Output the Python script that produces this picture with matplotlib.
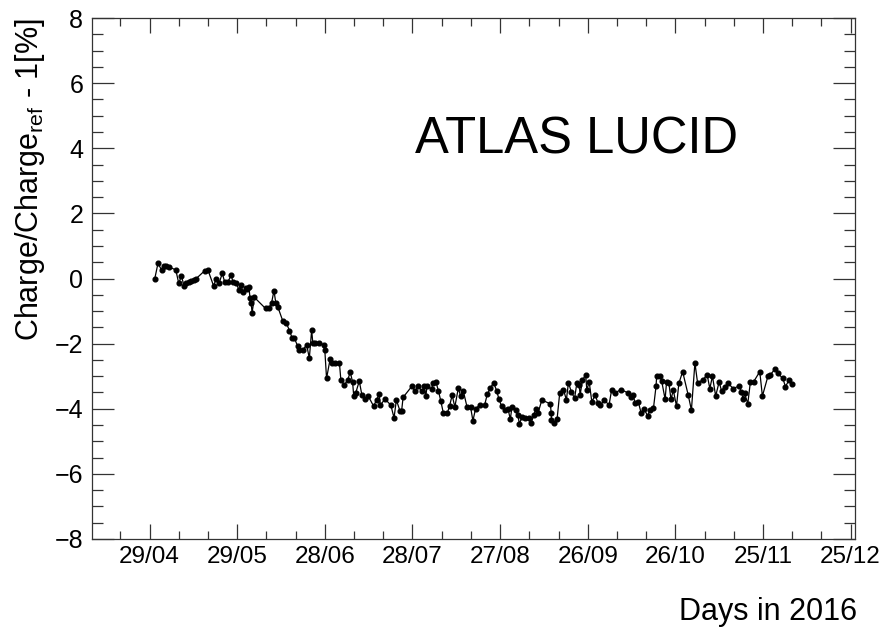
import matplotlib
matplotlib.use("Agg")
import matplotlib.pyplot as plt
from matplotlib.ticker import MultipleLocator, FixedLocator

plt.rcParams['font.family'] = ['Liberation Sans', 'DejaVu Sans']
plt.rcParams['mathtext.fontset'] = 'custom'
plt.rcParams['mathtext.rm'] = 'Liberation Sans'
plt.rcParams['mathtext.it'] = 'Liberation Sans:italic'

# Day of year 2016 and relative charge deviation [%]
days = [121.8, 122.9, 124.1, 124.9, 125.8, 126.7, 129.0, 130.0, 130.9, 131.8,
        132.6, 133.5, 134.3, 135.2, 136.0, 138.9, 140.0, 141.9, 142.9, 143.8,
        144.9, 145.7, 146.8, 148.0, 148.5, 149.7, 150.6, 151.4, 151.9, 152.9,
        153.3, 154.0, 154.4, 154.8, 155.1, 155.9, 159.7, 160.8, 161.8, 162.6,
        163.2, 163.9, 165.6, 166.8, 167.9, 168.8, 169.6, 170.7, 171.3, 172.4,
        173.8, 174.7, 175.5, 175.9, 176.8, 178.1, 179.6, 180.0, 180.6, 181.8,
        182.6, 183.6, 185.0, 185.5, 186.7, 187.8, 188.7, 189.5, 189.9, 190.6,
        191.8, 192.7, 193.7, 194.8, 196.7, 197.7, 198.6, 199.0, 200.6, 202.6,
        203.7, 204.5, 205.7, 206.3, 206.8, 209.8, 210.9, 211.8, 213.4, 214.0,
        214.6, 215.0, 216.6, 217.0, 218.0, 218.9, 219.7, 220.6, 221.9, 222.7,
        223.6, 224.5, 225.7, 226.5, 227.4, 228.7, 229.9, 230.7, 231.6, 233.0,
        234.7, 235.6, 236.7, 237.8, 238.8, 239.6, 240.5, 241.6, 242.7, 243.5,
        244.1, 245.3, 246.1, 246.6, 247.5, 248.7, 249.8, 250.6, 251.5, 252.3,
        253.0, 254.3, 257.2, 257.5, 257.6, 258.3, 259.5, 260.4, 261.7, 262.7,
        263.4, 264.4, 265.5, 266.3, 267.1, 267.4, 268.2, 269.3, 269.7, 270.5,
        271.4, 272.6, 273.5, 274.3, 275.7, 277.3, 278.2, 279.4, 281.4, 283.7,
        284.8, 285.6, 286.2, 287.3, 288.3, 289.4, 290.5, 291.3, 292.5, 293.4,
        293.6, 294.8, 295.3, 296.5, 297.0, 297.8, 298.5, 299.3, 300.4, 301.2,
        302.5, 304.4, 305.5, 306.7, 307.6, 309.3, 310.9, 311.8, 312.7, 313.8,
        315.0, 315.8, 316.9, 318.1, 319.8, 321.8, 322.6, 323.2, 323.7, 324.8,
        325.7, 326.8, 328.9, 329.8, 331.7, 332.5, 334.0, 335.1, 336.8, 337.7,
        338.9, 340.0]
values = [0.00, 0.47, 0.26, 0.39, 0.39, 0.36, 0.26, -0.15, 0.08, -0.22,
          -0.13, -0.10, -0.07, -0.05, 0.00, 0.24, 0.26, -0.22, 0.00, -0.15,
          0.16, -0.10, -0.10, 0.10, -0.10, -0.15, -0.35, -0.20, -0.40, -0.30,
          -0.33, -0.25, -0.60, -0.76, -1.05, -0.58, -0.92, -0.92, -0.74, -0.37,
          -0.74, -0.87, -1.30, -1.36, -1.60, -1.82, -1.84, -2.07, -2.20, -2.20,
          -2.04, -2.45, -1.58, -1.99, -1.97, -1.99, -2.04, -2.20, -3.07, -2.48,
          -2.59, -2.59, -2.59, -3.12, -3.27, -3.12, -2.88, -3.17, -3.61, -3.51,
          -3.15, -3.58, -3.70, -3.60, -3.92, -3.73, -3.56, -3.89, -3.70, -3.89,
          -4.28, -3.73, -4.06, -4.06, -3.65, -3.31, -3.46, -3.31, -3.46, -3.31,
          -3.60, -3.31, -3.40, -3.20, -3.17, -3.45, -3.76, -4.14, -4.14, -3.92,
          -3.58, -3.95, -3.37, -3.61, -3.45, -3.95, -3.95, -4.37, -4.00, -3.89,
          -3.89, -3.56, -3.36, -3.20, -3.44, -3.70, -3.92, -4.05, -4.00, -4.32,
          -3.94, -4.05, -4.20, -4.46, -4.26, -4.28, -4.28, -4.45, -4.20, -4.00,
          -4.13, -3.73, -3.85, -4.12, -4.35, -4.44, -4.33, -3.53, -3.41, -3.73,
          -3.20, -3.48, -3.68, -3.20, -3.27, -3.58, -3.12, -2.96, -3.43, -3.17,
          -3.78, -3.58, -3.83, -3.89, -3.73, -3.89, -3.41, -3.51, -3.41, -3.51,
          -3.65, -3.58, -3.83, -3.78, -4.14, -4.02, -4.22, -4.04, -3.99, -3.30,
          -3.00, -3.00, -3.14, -3.71, -3.17, -3.22, -3.71, -3.43, -3.92, -3.22,
          -2.86, -3.58, -4.04, -2.59, -3.20, -3.12, -2.96, -3.38, -3.00, -3.61,
          -3.17, -3.45, -3.32, -3.22, -3.38, -3.30, -3.48, -3.71, -3.53, -3.84,
          -3.17, -3.17, -2.86, -3.61, -3.00, -2.96, -2.79, -2.91, -3.07, -3.32,
          -3.12, -3.25]

tick_days = [120, 150, 180, 210, 240, 270, 300, 330, 360]
tick_labels = ['29/04', '29/05', '28/06', '28/07', '27/08', '26/09', '26/10', '25/11', '25/12']

W, H = 883, 627
fig = plt.figure(figsize=(W / 100, H / 100), dpi=100)
ax = fig.add_axes([91.7 / W, 1 - 539 / H, (855 - 91.7) / W, (539 - 18) / H])

ax.plot(days, values, color='black', lw=0.9, marker='o', ms=3.4,
        markerfacecolor='black', markeredgecolor='black')

ax.set_xlim(100.2, 361.5)
ax.set_ylim(-8, 8)

ax.xaxis.set_major_locator(FixedLocator(tick_days))
ax.set_xticklabels(tick_labels)
ax.xaxis.set_minor_locator(MultipleLocator(10))
ax.yaxis.set_major_locator(MultipleLocator(2))
ax.yaxis.set_minor_locator(MultipleLocator(0.5))

ax.tick_params(axis='both', which='both', direction='in', top=True, right=True,
               width=0.9, color='#333333')
ax.tick_params(axis='x', which='major', length=11, labelsize=17.5, pad=5)
ax.tick_params(axis='x', which='minor', length=5.5)
ax.tick_params(axis='y', which='major', length=16, labelsize=18, pad=6)
ax.tick_params(axis='y', which='minor', length=8)
for sp in ax.spines.values():
    sp.set_linewidth(0.9)
    sp.set_color('#333333')

fig.text(30 / W, 1 - 18 / H, r'Charge/Charge$_{\mathrm{ref}}$ - 1[%]', rotation=90,
         ha='center', va='top', fontsize=22)
fig.text(857 / W, 1 - 620 / H, 'Days in 2016', ha='right', va='baseline', fontsize=22)
fig.text(415 / W, 1 - 153 / H, 'ATLAS LUCID', ha='left', va='baseline', fontsize=36.5)

fig.savefig('out.png', dpi=100)
